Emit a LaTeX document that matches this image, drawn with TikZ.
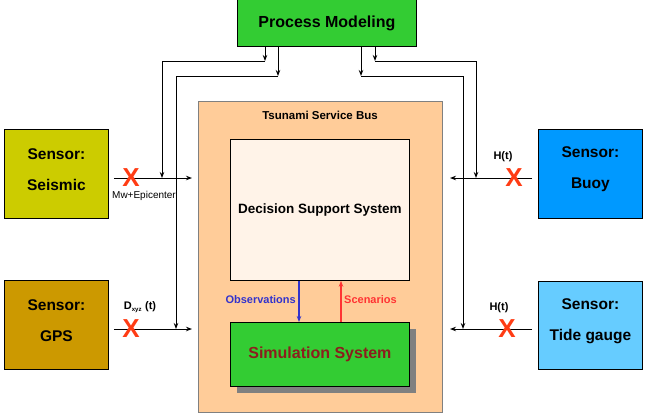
\documentclass[tikz,border=0pt]{standalone}
\usepackage{fontspec}
\setmainfont{Liberation Sans}
\usetikzlibrary{arrows.meta,shadows}
\definecolor{pmgreen}{RGB}{51,204,51}
\definecolor{seiscol}{RGB}{204,204,0}
\definecolor{gpscol}{RGB}{204,153,0}
\definecolor{buoycol}{RGB}{0,153,255}
\definecolor{tidecol}{RGB}{102,204,255}
\definecolor{tsbcol}{RGB}{255,204,153}
\definecolor{dsscol}{RGB}{255,243,232}
\definecolor{shadowgray}{RGB}{128,128,128}
\definecolor{simtext}{RGB}{140,30,30}
\definecolor{obsblue}{RGB}{51,51,204}
\definecolor{scenred}{RGB}{255,51,51}
\definecolor{xred}{RGB}{255,60,20}
\begin{document}
\begin{tikzpicture}[x=1pt,y=-1pt,
  box/.style={draw=black, line width=0.8pt, inner sep=0pt, anchor=north west},
  sensorbox/.style={box, minimum width=104pt, minimum height=89pt},
  sensortext/.style={align=center, font=\fontsize{15.5}{31}\selectfont\bfseries},
  arr/.style={line width=1pt, -{Stealth[length=6pt,width=4.5pt]}},
  xmark/.style={text=xred, font=\fontsize{26}{26}\selectfont\bfseries, inner sep=0pt},
  small/.style={font=\fontsize{10}{12}\selectfont, inner sep=0pt},
  smallb/.style={font=\fontsize{11}{13}\selectfont\bfseries, inner sep=0pt}
]
\useasboundingbox (0,0) rectangle (647,416);

% Process Modeling
\node[box, fill=pmgreen, minimum width=179pt, minimum height=47pt,
      font=\fontsize{16}{19}\selectfont\bfseries] (pm) at (237,-1) {Process Modeling};

% Tsunami Service Bus
\node[box, draw=gray, fill=tsbcol, minimum width=244pt, minimum height=311pt] (tsb) at (198,101) {};
\node[font=\fontsize{11.5}{14}\selectfont\bfseries, inner sep=0pt] (tsbt) at (320,115) {Tsunami Service Bus};

% Decision Support System
\node[box, fill=dsscol, minimum width=179pt, minimum height=141pt,
      font=\fontsize{13.5}{16}\selectfont\bfseries] (dss) at (230,139) {Decision Support System};

% Simulation System
\node[box, fill=pmgreen, minimum width=179pt, minimum height=64pt,
      drop shadow={shadow xshift=7pt, shadow yshift=-7pt, fill=shadowgray, opacity=1},
      text=simtext, font=\fontsize{16}{19}\selectfont\bfseries] (sim) at (230,322) {Simulation System};

% Sensors
\node[sensorbox, fill=seiscol] (seis) at (4,129) {};
\node[sensortext] (seist) at ([yshift=4.5pt]seis.center) {Sensor:\\Seismic};
\node[sensorbox, fill=gpscol] (gps) at (4,280) {};
\node[sensortext] (gpst) at ([yshift=4.5pt]gps.center) {Sensor:\\GPS};
\node[sensorbox, fill=buoycol] (buoy) at (538,129) {};
\node[sensortext] (buoyt) at ([yshift=4.5pt]buoy.center) {Sensor:\\Buoy};
\node[sensorbox, fill=tidecol, minimum height=88pt] (tide) at (538,281) {};
\node[sensortext] (tidet) at ([yshift=4.5pt]tide.center) {Sensor:\\Tide gauge};

% Sensor input lines
\coordinate (sin) at (192,178);
\coordinate (gin) at (192,329);
\coordinate (bin) at (450,178);
\coordinate (tin) at (450,329);
\draw[arr] ([xshift=5pt]seis.east |- sin) -- (sin);
\draw[arr] ([xshift=5pt]gps.east |- gin) -- (gin);
\draw[arr] ([xshift=-6pt]buoy.west |- bin) -- (bin);
\draw[arr] ([xshift=-6pt]tide.west |- tin) -- (tin);

\node[xmark] (x1) at (131,178) {X};
\node[xmark] (x2) at (131,329) {X};
\node[xmark] (x3) at (514,178) {X};
\node[xmark] (x4) at (507,329) {X};

\node[small] (mw) at (144,196) {Mw+Epicenter};
\node[smallb] (dxyz) at (140,307) {D\textsubscript{\fontsize{6}{7}\selectfont xyz} (t)};
\node[smallb] (h1) at (503,157) {H(t)};
\node[smallb] (h2) at (499,308) {H(t)};

% Process Modeling connectors
\coordinate (a1) at (265,61);
\coordinate (a2) at (162,61);
\coordinate (b1) at (278,76);
\coordinate (b2) at (176,76);
\coordinate (c1) at (361,76);
\coordinate (c2) at (463,76);
\coordinate (d1) at (375,61);
\coordinate (d2) at (476,61);
\draw[arr] (pm.south -| a1) -- (a1);
\draw[arr] (a1) -- (a2) -- (a2 |- sin);
\draw[arr] (pm.south -| b1) -- (b1);
\draw[arr] (b1) -- (b2) -- (b2 |- gin);
\draw[arr] (pm.south -| c1) -- (c1);
\draw[arr] (c1) -- (c2) -- (c2 |- tin);
\draw[arr] (pm.south -| d1) -- (d1);
\draw[arr] (d1) -- (d2) -- (d2 |- bin);

% DSS <-> Simulation
\draw[arr, line width=1.4pt, draw=obsblue] (dss.south -| 299,0) -- (sim.north -| 299,0);
\draw[arr, line width=1.4pt, draw=scenred] (sim.north -| 341,0) -- (dss.south -| 341,0);
\node[smallb, text=obsblue, anchor=east] (obs) at (296,300) {Observations};
\node[smallb, text=scenred, anchor=west] (scen) at (344,300) {Scenarios};
\end{tikzpicture}
\end{document}
